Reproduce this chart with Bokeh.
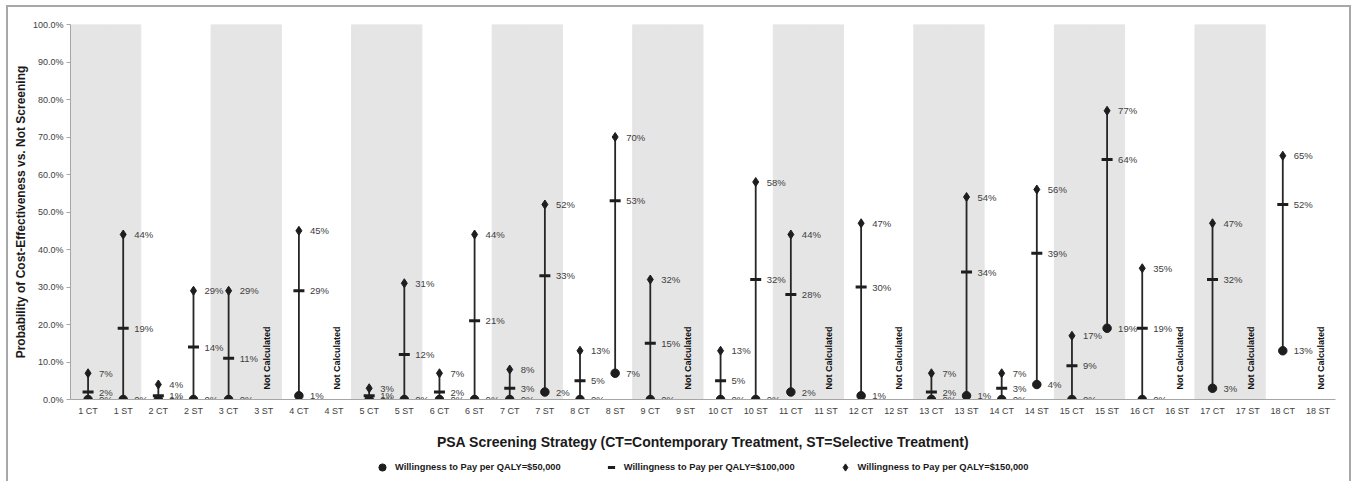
import math
from bokeh.plotting import figure
from bokeh.layouts import column
from bokeh.models import (NumeralTickFormatter, FixedTicker, Legend, LegendItem,
                          FactorRange, Range1d)
from bokeh.core.properties import value
from bokeh.embed import file_html
from bokeh.resources import INLINE

# ---------------- data ----------------
strategies = ["1 CT", "1 ST", "2 CT", "2 ST", "3 CT", "3 ST", "4 CT", "4 ST",
              "5 CT", "5 ST", "6 CT", "6 ST", "7 CT", "7 ST", "8 CT", "8 ST",
              "9 CT", "9 ST", "10 CT", "10 ST", "11 CT", "11 ST", "12 CT", "12 ST",
              "13 CT", "13 ST", "14 CT", "14 ST", "15 CT", "15 ST", "16 CT", "16 ST",
              "17 CT", "17 ST", "18 CT", "18 ST"]
N = None  # not calculated
wtp_50k = [0, 0, 0, 0, 0, N, 1, N, 0, 0, 0, 0, 0, 2, 0, 7, 0, N,
           0, 0, 2, N, 1, N, 0, 1, 0, 4, 0, 19, 0, N, 3, N, 13, N]
wtp_100k = [2, 19, 1, 14, 11, N, 29, N, 1, 12, 2, 21, 3, 33, 5, 53, 15, N,
            5, 32, 28, N, 30, N, 2, 34, 3, 39, 9, 64, 19, N, 32, N, 52, N]
wtp_150k = [7, 44, 4, 29, 29, N, 45, N, 3, 31, 7, 44, 8, 52, 13, 70, 32, N,
            13, 58, 44, N, 47, N, 7, 54, 7, 56, 17, 77, 35, N, 47, N, 65, N]
shaded_groups = [1, 3, 5, 7, 9, 11, 13, 15, 17]
y_ticks = [0.0, 0.1, 0.2, 0.3, 0.4, 0.5, 0.6, 0.7, 0.8, 0.9, 1.0]
series_names = ["Willingness to Pay per QALY=$50,000",
                "Willingness to Pay per QALY=$100,000",
                "Willingness to Pay per QALY=$150,000"]
not_calc_text = "Not Calculated"
x_title = "PSA Screening Strategy (CT=Contemporary Treatment, ST=Selective Treatment)"
y_title = "Probability of Cost-Effectiveness vs. Not Screening"

FONT = "Liberation Sans"
DARK = "#1e1e1e"
TXT = "#404040"

# ---------------- derived ----------------
calc = [i for i, v in enumerate(wtp_50k) if v is not None]
nc = [i for i, v in enumerate(wtp_50k) if v is None]
cats = [strategies[i] for i in calc]
lo = [wtp_50k[i] / 100 for i in calc]
mid = [wtp_100k[i] / 100 for i in calc]
hi = [wtp_150k[i] / 100 for i in calc]
shaded = [s for s in strategies if int(s.split()[0]) in shaded_groups]

p = figure(width=1341, height=445, x_range=FactorRange(*strategies),
           y_range=Range1d(0, 1), output_backend="svg", toolbar_location=None,
           min_border_left=62, min_border_right=14, min_border_top=17,
           min_border_bottom=53)
p.outline_line_color = None
p.xgrid.visible = False
p.ygrid.visible = False

# shaded bands
p.vbar(x=shaded, top=[1] * len(shaded), bottom=0, width=1,
       fill_color="#e5e5e5", line_color="#e5e5e5", line_width=1)

# ranges
p.segment(x0=cats, y0=lo, x1=cats, y1=hi, line_color="#262626", line_width=1.8)
p.scatter(x=cats, y=lo, marker="circle", size=8.5, fill_color=DARK, line_color=DARK)
p.scatter(x=cats, y=mid, marker="dash", size=11, line_color=DARK, line_width=3)
p.scatter(x=cats, y=hi, marker="diamond", size=9, fill_color=DARK, line_color=DARK)

# value labels
lab_x = cats * 3
lab_y = lo + mid + hi
lab_t = [f"{round(v * 100)}%" for v in lab_y]
p.text(x=lab_x, y=lab_y, text=lab_t, x_offset=11, text_baseline="middle",
       text_align="left", text_font=value(FONT), text_font_size="9.5px",
       text_color=TXT)

# not calculated
nc_cats = [strategies[i] for i in nc]
p.text(x=nc_cats, y=[0] * len(nc_cats), text=[not_calc_text] * len(nc_cats),
       angle=math.pi / 2, x_offset=3, y_offset=-10, text_align="left",
       text_baseline="middle", text_font=value(FONT), text_font_size="9px",
       text_font_style="bold", text_color="#111111")

# axes
p.yaxis.ticker = FixedTicker(ticks=y_ticks)
p.yaxis.formatter = NumeralTickFormatter(format="0.0%")
p.yaxis.axis_label = y_title
p.xaxis.axis_label = x_title
for ax in (p.xaxis, p.yaxis):
    ax.axis_line_color = "#a6a6a6"
    ax.major_label_text_font = FONT
    ax.major_label_text_font_size = "9px"
    ax.major_label_text_color = TXT
    ax.axis_label_text_font = FONT
    ax.axis_label_text_font_style = "bold"
    ax.axis_label_text_color = "#1a1a1a"
    ax.minor_tick_line_color = None
p.yaxis.major_tick_line_color = "#a6a6a6"
p.yaxis.major_tick_out = 4
p.yaxis.major_tick_in = 0
p.yaxis.major_label_standoff = 3
p.yaxis.axis_label_text_font_size = "12px"
p.yaxis.axis_label_standoff = 2
p.xaxis.major_tick_line_color = None
p.xaxis.major_tick_out = 0
p.xaxis.major_tick_in = 0
p.xaxis.major_label_standoff = 6
p.xaxis.axis_label_text_font_size = "14px"
p.xaxis.axis_label_standoff = 15

# ---------------- legend strip ----------------
lg = figure(width=1341, height=29, x_range=Range1d(0, 1), y_range=Range1d(0, 1),
            output_backend="svg", toolbar_location=None, min_border=0)
lg.axis.visible = False
lg.xgrid.visible = False
lg.ygrid.visible = False
lg.outline_line_color = None
hidden_x = [-1]
hidden_y = [-1]
g50 = lg.scatter(x=hidden_x, y=hidden_y, marker="circle", fill_color=DARK, line_color=DARK)
g100 = lg.scatter(x=hidden_x, y=hidden_y, marker="dash", line_color=DARK, line_width=3)
g150 = lg.scatter(x=hidden_x, y=hidden_y, marker="diamond", fill_color=DARK, line_color=DARK)
legend = Legend(items=[LegendItem(label=series_names[0], renderers=[g50]),
                       LegendItem(label=series_names[1], renderers=[g100]),
                       LegendItem(label=series_names[2], renderers=[g150])],
                orientation="horizontal", location=(303, 5),
                label_text_font=FONT, label_text_font_size="9.3px",
                label_text_font_style="bold", label_text_color="#1a1a1a",
                border_line_color=None, background_fill_alpha=0,
                spacing=41, glyph_width=18, glyph_height=18, label_standoff=4,
                label_height=18, padding=0, margin=0)
lg.add_layout(legend, "center")

layout = column(p, lg, spacing=0)
layout.styles = {"margin-left": "8px", "margin-top": "7px",
                 "outline": "2px solid #a8a8a8"}

open("out.html", "w").write(file_html(layout, INLINE))
